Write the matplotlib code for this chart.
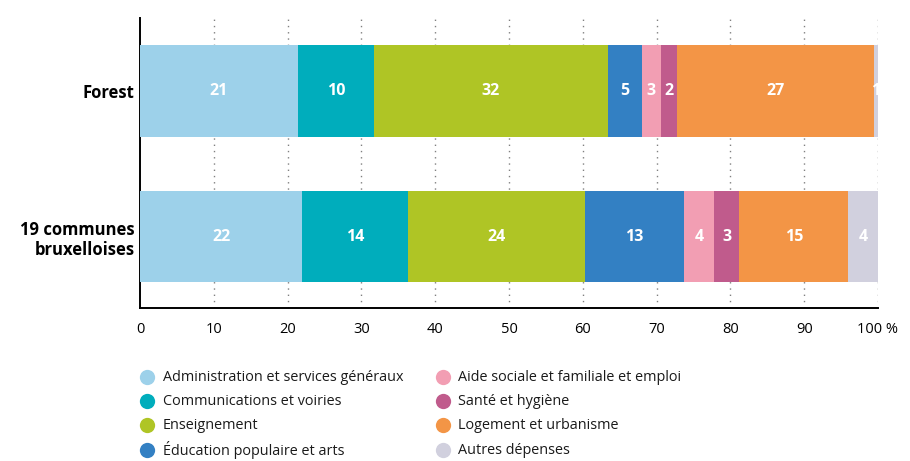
import matplotlib
matplotlib.use("Agg")
import matplotlib.pyplot as plt
from matplotlib.lines import Line2D

plt.rcParams['font.family'] = ['Open Sans', 'DejaVu Sans']

groups = ["Forest", "19 communes\nbruxelloises"]
categories = [
    "Administration et services généraux",
    "Communications et voiries",
    "Enseignement",
    "Éducation populaire et arts",
    "Aide sociale et familiale et emploi",
    "Santé et hygiène",
    "Logement et urbanisme",
    "Autres dépenses",
]
colors = ["#9dd1ea", "#00adbc", "#afc525", "#3380c3",
          "#f29eb3", "#c05b8c", "#f39546", "#d1d0de"]
forest = [21.4, 10.3, 31.7, 4.6, 2.6, 2.2, 26.6, 0.6]
bruxelles = [22.0, 14.3, 24.0, 13.4, 4.1, 3.4, 14.8, 4.0]
xticks = [0, 10, 20, 30, 40, 50, 60, 70, 80, 90, 100]
xticklabels = ["0", "10", "20", "30", "40", "50", "60", "70", "80", "90", "100 %"]

W, H = 910, 461
fig = plt.figure(figsize=(W / 100, H / 100), dpi=100)
ax = fig.add_axes([0.1538, 0.332, 0.811, 0.629])

ypos = [1, 0]
series = [forest, bruxelles]
bar_h = 0.632
for y, vals in zip(ypos, series):
    left = 0.0
    for v, c in zip(vals, colors):
        ax.barh(y, v, left=left, height=bar_h, color=c, edgecolor="none", zorder=3)
        ax.text(left + v / 2, y, f"{v:.0f}", ha="center", va="center",
                color="white", fontsize=11.5, fontweight="bold", zorder=4)
        left += v

for x in xticks[1:]:
    ax.axvline(x, color="#808080", linestyle=(0, (1, 3.5)), linewidth=1.0, zorder=1)

ax.set_xlim(0, 100)
ax.set_ylim(-0.491, 1.502)
ax.set_xticks(xticks)
ax.set_xticklabels(xticklabels, fontsize=10.5)
ax.set_yticks(ypos)
ax.set_yticklabels(groups, fontsize=12, fontweight="bold", linespacing=1.15)
ax.tick_params(axis="x", length=0, pad=10)
ax.tick_params(axis="y", length=0, pad=4)
for s in ["top", "right"]:
    ax.spines[s].set_visible(False)
ax.spines["left"].set_linewidth(1.4)
ax.spines["bottom"].set_linewidth(1.4)

# legend laid out in two columns of four rows
col_circle_x = [147, 443]
col_text_x = [163, 458]
row_y = [377, 401, 425, 450]
for i, (lab, c) in enumerate(zip(categories, colors)):
    col, row = divmod(i, 4)
    yf = 1 - row_y[row] / H
    fig.add_artist(Line2D([col_circle_x[col] / W], [yf], marker="o",
                          markersize=11, markerfacecolor=c,
                          markeredgecolor="none", linestyle="none",
                          transform=fig.transFigure))
    fig.text(col_text_x[col] / W, yf, lab, ha="left", va="center",
             fontsize=10.4, color="#1a1a1a")

fig.savefig("out.png", dpi=100)
